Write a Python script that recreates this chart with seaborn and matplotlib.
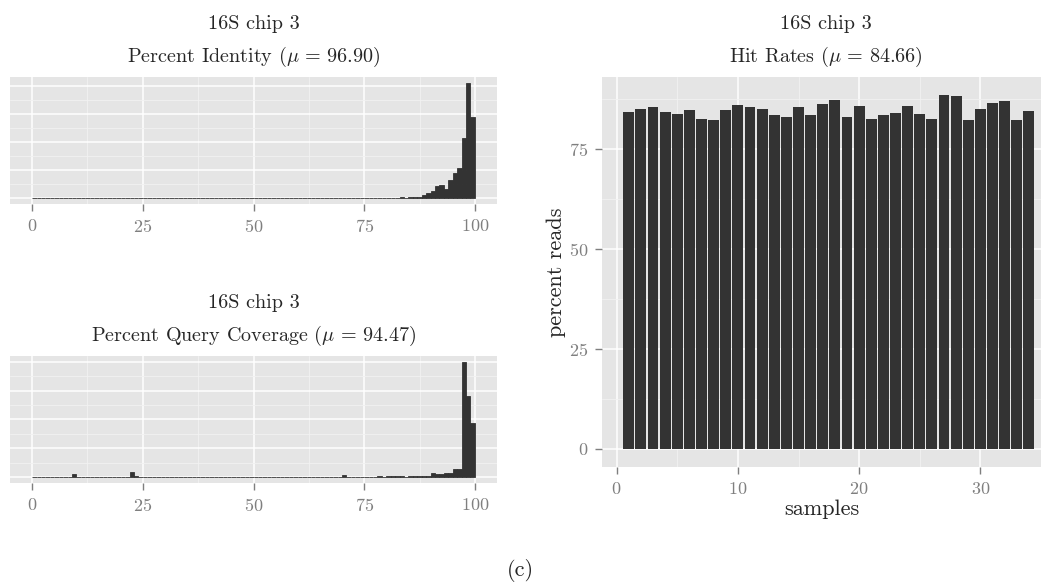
import numpy as np
import pandas as pd
import matplotlib
matplotlib.use("Agg")
import matplotlib.pyplot as plt
import seaborn as sns
from matplotlib.ticker import MultipleLocator

sns.set_theme(style="darkgrid")
plt.rcParams["font.family"] = ["cmr10", "DejaVu Serif"]
plt.rcParams["mathtext.fontset"] = "cm"
plt.rcParams["axes.formatter.use_mathtext"] = True

# ---- data -------------------------------------------------------------
chip_label = "16S chip 3"

# percent identity histogram (1-unit bins, lower edge -> read count)
identity_bins = [80, 81, 82, 83, 84, 85, 86, 87, 88, 89, 90, 91, 92, 93,
                 94, 95, 96, 97, 98, 99]
identity_counts = [10, 10, 14, 36, 25, 36, 36, 43, 107, 179, 250, 429, 475,
                   321, 654, 893, 1071, 2143, 4118, 2893]
identity_mean = 96.90

# percent query coverage histogram
coverage_bins = [9, 22, 23, 70, 78, 80, 81, 82, 83, 84, 85, 86, 87, 88, 89,
                 90, 91, 92, 93, 94, 95, 96, 97, 98, 99]
coverage_counts = [105, 175, 35, 70, 30, 30, 30, 35, 30, 10, 25, 25, 25, 35,
                   35, 140, 105, 105, 130, 150, 270, 290, 4000, 2820, 1860]
coverage_mean = 94.47

# hit rate per sample
sample_ids = list(range(1, 35))
hit_rates = [84.25, 85.0, 85.5, 84.25, 83.75, 84.75, 82.5, 82.25, 84.75, 86.0,
             85.5, 85.0, 83.5, 83.0, 85.5, 83.5, 86.25, 87.25, 83.0, 85.75,
             82.5, 83.5, 84.0, 85.75, 83.75, 82.5, 88.5, 88.25, 82.25, 85.0,
             86.5, 87.0, 82.25, 84.5]
hit_mean = 84.66

# ---- style ------------------------------------------------------------
BAR = "#333333"
PANEL = "#e5e5e5"
TICK = "#7f7f7f"
TICK_FS = 13
TITLE_FS = 14.5
AXLAB_FS = 16


def style_panel(ax, show_y=True):
    ax.set_facecolor(PANEL)
    for s in ax.spines.values():
        s.set_visible(False)
    ax.set_axisbelow(True)
    ax.grid(which="major", color="white", linewidth=1.1)
    ax.grid(which="minor", color="#f2f2f2", linewidth=0.6)
    ax.tick_params(which="major", axis="both", color=TICK, labelcolor=TICK,
                   length=5, width=1.0, pad=5, labelsize=TICK_FS,
                   bottom=True, left=show_y, labelleft=show_y)
    ax.tick_params(which="minor", bottom=False, left=False, length=0)


def two_line_title(ax, line1, line2, xfrac=0.5):
    ax.annotate(line2, xy=(xfrac, 1.0), xycoords="axes fraction",
                xytext=(0, 14.4), textcoords="offset points",
                ha="center", va="center", fontsize=TITLE_FS)
    ax.annotate(line1, xy=(xfrac, 1.0), xycoords="axes fraction",
                xytext=(0, 38.5), textcoords="offset points",
                ha="center", va="center", fontsize=TITLE_FS)


def mean_title(name, value):
    return r"%s ($\mu\,=\,%.2f$)" % (name, value)


def draw_hist(ax, bins, counts, title):
    full = np.zeros(100)
    full[bins] = counts
    df = pd.DataFrame({"pct": np.arange(100) + 0.5, "n": full})
    sns.histplot(data=df, x="pct", weights="n", binwidth=1, binrange=(0, 100),
                 color=BAR, alpha=1, edgecolor=BAR, linewidth=0.6, ax=ax)
    top = max(counts)
    ax.set_xlim(-5, 105)
    ax.set_ylim(-0.05 * top, 1.05 * top)
    ax.xaxis.set_major_locator(MultipleLocator(25))
    ax.xaxis.set_minor_locator(MultipleLocator(12.5))
    ax.yaxis.set_major_locator(MultipleLocator(1000))
    ax.yaxis.set_minor_locator(MultipleLocator(500))
    style_panel(ax, show_y=False)
    ax.set_xlabel("")
    ax.set_ylabel("")
    two_line_title(ax, chip_label, title)


fig = plt.figure(figsize=(10.41, 5.88), dpi=100)
W, H = 1041, 588


def px_axes(x0, y0, x1, y1):
    return fig.add_axes([x0 / W, 1 - y1 / H, (x1 - x0) / W, (y1 - y0) / H])


ax_id = px_axes(10, 77, 497, 204)
ax_cov = px_axes(10, 356, 497, 482.7)
ax_hit = px_axes(602, 77, 1041, 466.7)

draw_hist(ax_id, identity_bins, identity_counts,
          mean_title("Percent Identity", identity_mean))
draw_hist(ax_cov, coverage_bins, coverage_counts,
          mean_title("Percent Query Coverage", coverage_mean))

# hit rates bar chart
sns.barplot(x=sample_ids, y=hit_rates, native_scale=True, color=BAR,
            saturation=1, width=0.9, errorbar=None, linewidth=0,
            edgecolor="none", ax=ax_hit)
ax_hit.set_xlim(-1.21, 35.0)
top = max(hit_rates)
ax_hit.set_ylim(-0.05 * top, 1.05 * top)
ax_hit.xaxis.set_major_locator(MultipleLocator(10))
ax_hit.xaxis.set_minor_locator(MultipleLocator(5))
ax_hit.yaxis.set_major_locator(MultipleLocator(25))
ax_hit.yaxis.set_minor_locator(MultipleLocator(12.5))
style_panel(ax_hit)
ax_hit.set_xlabel("samples", fontsize=AXLAB_FS, labelpad=2)
ax_hit.set_ylabel("percent reads", fontsize=AXLAB_FS, labelpad=2)
two_line_title(ax_hit, chip_label, mean_title("Hit Rates", hit_mean),
               xfrac=(826 - 602) / 439)

fig.text(0.4995, 1 - 570 / H, "(c)", ha="center", va="center", fontsize=16)

fig.savefig("out.png", dpi=100)
